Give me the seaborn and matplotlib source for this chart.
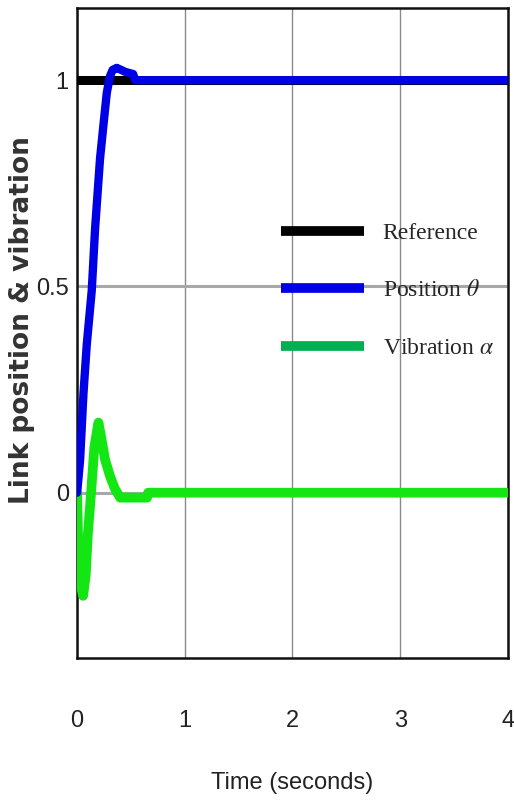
import numpy as np
import pandas as pd
import matplotlib
matplotlib.use('Agg')
import matplotlib.pyplot as plt
from matplotlib.lines import Line2D
import seaborn as sns

# values
ref_t = [0.0, 4.0]
ref_y = [1.0, 1.0]

pos_t = [0.0, 0.004, 0.028, 0.059, 0.09, 0.136, 0.167, 0.213, 0.244, 0.276,
         0.306, 0.33, 0.368, 0.45, 0.52, 0.54, 4.0]
pos_y = [0.0, 0.01, 0.08, 0.24, 0.36, 0.49, 0.64, 0.81, 0.89, 0.97,
         1.01, 1.025, 1.03, 1.02, 1.015, 1.0, 1.0]

vib_t = [0.0, 0.01, 0.03, 0.056, 0.08, 0.10, 0.13, 0.16, 0.198, 0.22,
         0.26, 0.306, 0.35, 0.40, 0.65, 0.66, 4.0]
vib_y = [0.0, -0.12, -0.22, -0.25, -0.2, -0.1, 0.0, 0.11, 0.17, 0.14,
         0.08, 0.04, 0.01, -0.012, -0.012, 0.0, 0.0]

labels = ['Reference', r'Position $\theta$', r'Vibration $\alpha$']
legend_colors = ['black', '#0000e6', '#00b050']
x_ticks = [0, 1, 2, 3, 4]
y_ticks = [0, 0.5, 1]
y_tick_labels = ['0', '0.5', '1']

sns.set_style('white')
plt.rcParams['mathtext.fontset'] = 'stix'

fig = plt.figure(figsize=(5.14, 8.05), dpi=100)
ax = fig.add_axes([0.150, 0.183, 0.838, 0.807])

sns.lineplot(x=ref_t, y=ref_y, sort=False, color='black', lw=6.5, ax=ax, zorder=3)
sns.lineplot(x=vib_t, y=vib_y, sort=False, color='#14e614', lw=7, ax=ax, zorder=4)
sns.lineplot(x=pos_t, y=pos_y, sort=False, color='#0000e6', lw=6, ax=ax, zorder=5)

ax.set_xlim(0, 4)
ax.set_ylim(-0.4, 1.175)
ax.set_xticks(x_ticks)
ax.set_xticklabels([str(v) for v in x_ticks])
ax.set_yticks(y_ticks)
ax.set_yticklabels(y_tick_labels)

for lab in ax.get_xticklabels() + ax.get_yticklabels():
    lab.set_family('Liberation Sans')
    lab.set_fontsize(17)
    lab.set_color('#222222')

ax.tick_params(axis='x', direction='in', length=5, width=1.2, pad=38, colors='#222222')
ax.tick_params(axis='y', direction='in', length=5, width=1.2, pad=6, colors='#222222')

ax.xaxis.grid(True, color='#8a8a8a', lw=1.0)
ax.yaxis.grid(True, color='#a8a8a8', lw=2.2)
ax.set_axisbelow(True)
for side, sp in ax.spines.items():
    sp.set_visible(True)
    sp.set_color('#111111')
    sp.set_linewidth(1.8)

ax.set_xlabel('Time (seconds)', family='Liberation Sans', fontsize=17, color='#222222')
ax.xaxis.set_label_coords(0.50, -0.193)
ax.xaxis.label.set_va('center')
ax.set_ylabel('Link position & vibration', fontsize=19, fontweight='bold', color='#333333')
ax.yaxis.set_label_coords(-0.128, 0.52)
ax.yaxis.label.set_va('center')

handles = [Line2D([0], [0], color=c, lw=7, solid_capstyle='butt') for c in legend_colors]
ax.legend(handles, labels, loc='upper left', bbox_to_anchor=(0.446, 0.688),
          frameon=False, borderpad=0, handlelength=3.5, handletextpad=0.8,
          labelspacing=1.52, prop={'family': 'Liberation Serif', 'size': 17})

fig.savefig('out.png', dpi=100)
